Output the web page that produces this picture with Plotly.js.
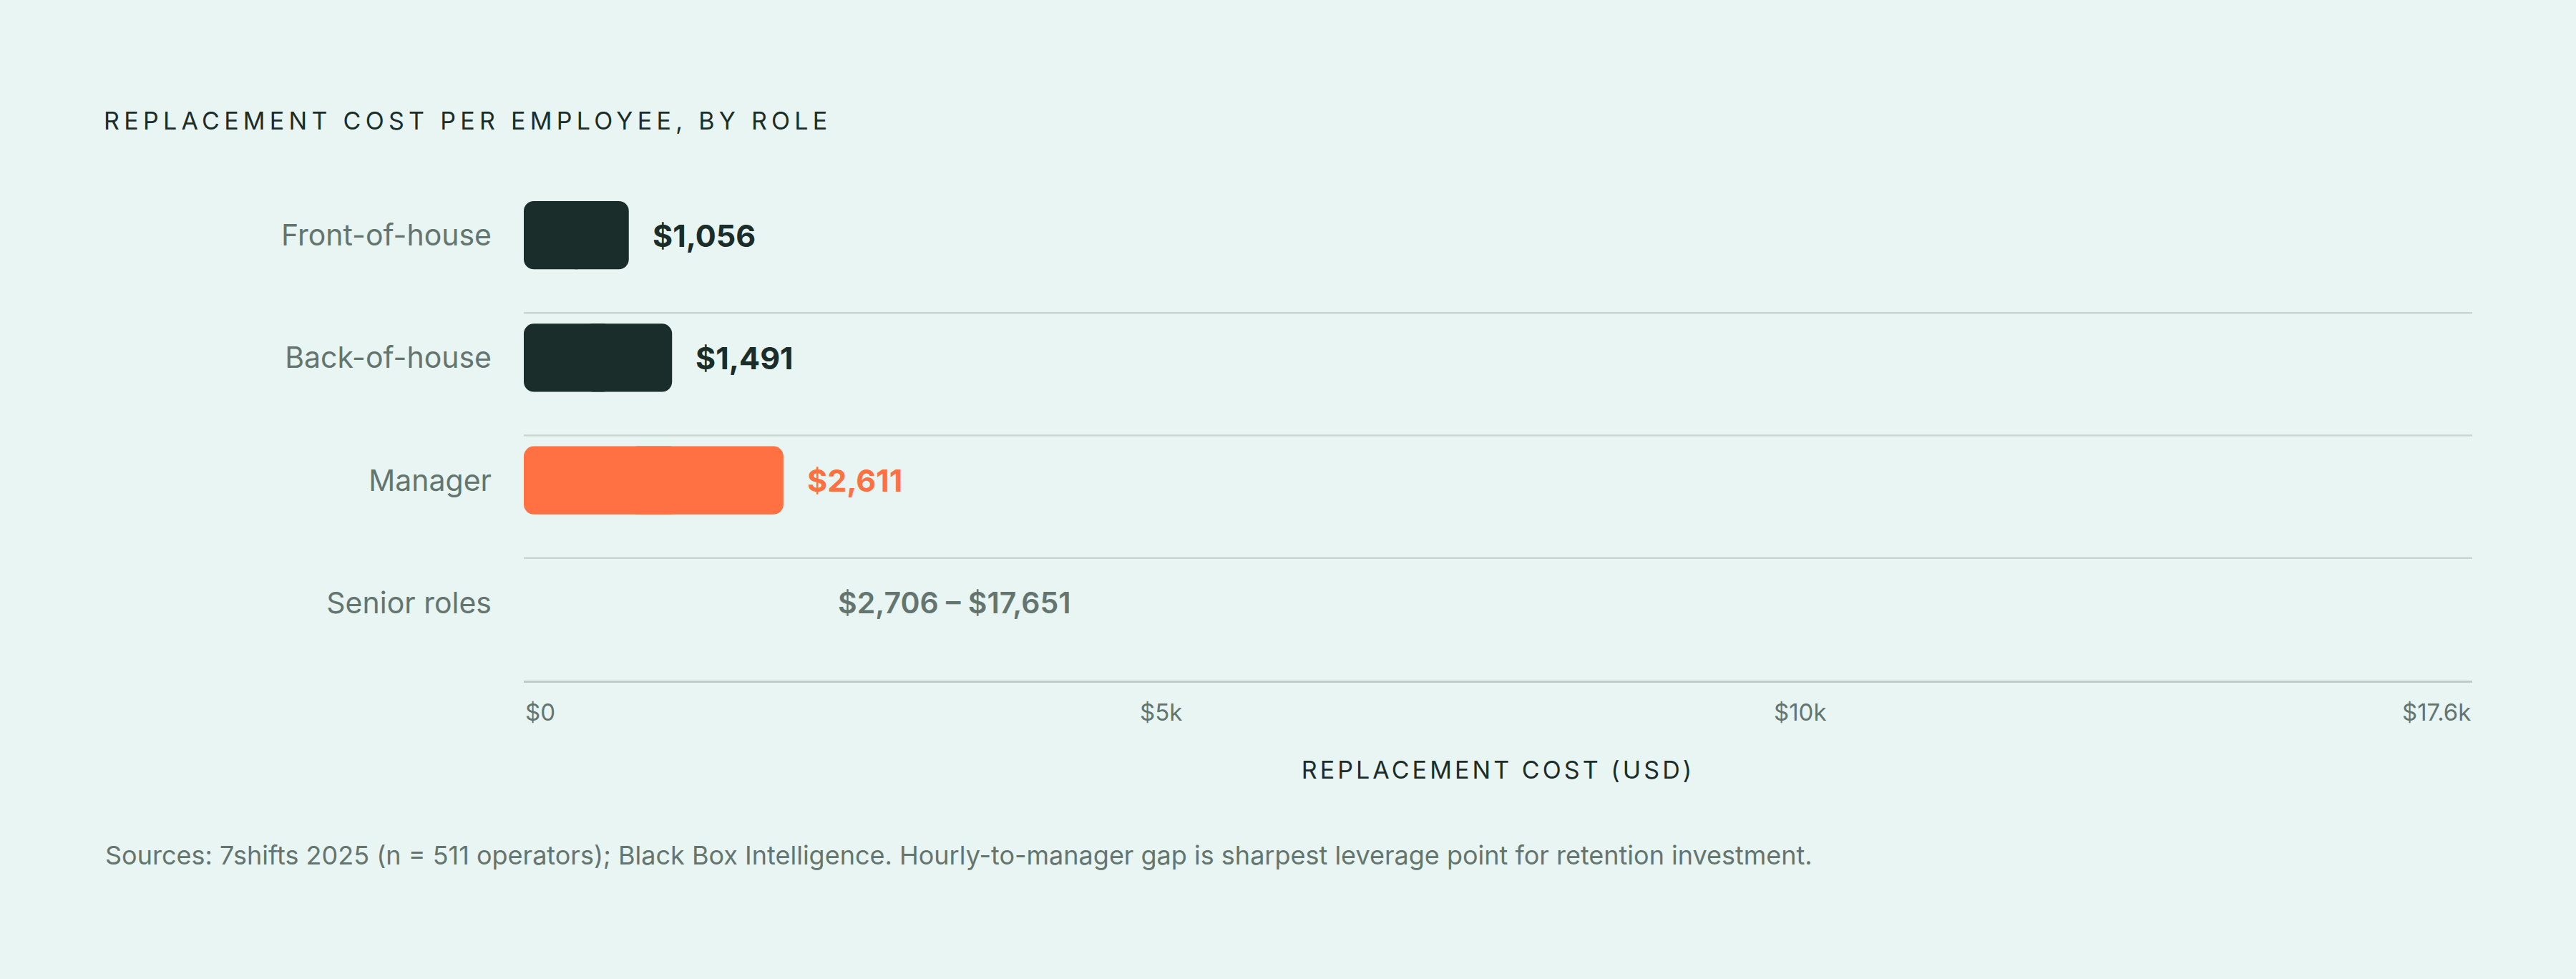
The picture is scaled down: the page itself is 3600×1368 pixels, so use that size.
<!DOCTYPE html>
<html>
<head>
<meta charset="utf-8">
<script src="https://cdn.plot.ly/plotly-3.0.1.min.js"></script>
<style>
  html, body { margin: 0; padding: 0; background: #e8f5f2; }
  #chart { width: 3600px; height: 1368px; }
  .gtitle { letter-spacing: 0.185em; }
  .xtitle { letter-spacing: 0.12em; }
</style>
</head>
<body>
<div id="chart"></div>
<script>
// data
const roles = ["Front-of-house", "Back-of-house", "Manager", "Senior roles"];
const costs = [1056, 1491, 2611, null];
const seniorRange = [2706, 17651];
const highlightRole = "Manager";
const tickLabels = ["$0", "$5k", "$10k", "$17.6k"];
const tickPos = [0, 0.327, 0.655, 1];
const titleText = "REPLACEMENT COST PER EMPLOYEE, BY ROLE";
const xTitleText = "REPLACEMENT COST (USD)";
const footerText =
  "Sources: 7shifts 2025 (n = 511 operators); Black Box Intelligence. Hourly-to-manager gap is sharpest leverage point for retention investment.";

const FONT = "Inter, 'DejaVu Sans', sans-serif";
const DARK = "#1b2d2a";
const ORANGE = "#ff7143";
const GRAY = "#647570";
const BG = "#e8f5f2";

const xMax = seniorRange[1] * 1.11;
const fmt = (v) => "$" + v.toLocaleString("en-US");

const barColors = roles.map((r) => (r === highlightRole ? ORANGE : DARK));

// each bar is drawn as two overlapping halves so both ends get rounded:
// the left half grows back toward 0 (rounded at 0), the right half grows to the value
const leftHalf = {
  type: "bar",
  orientation: "h",
  y: roles,
  base: costs.map((v) => (v == null ? null : v * 0.6)),
  x: costs.map((v) => (v == null ? null : -v * 0.6)),
  width: 0.556,
  marker: { color: barColors, cornerradius: 14, line: { width: 0 } },
  hoverinfo: "skip",
};
const rightHalf = {
  type: "bar",
  orientation: "h",
  y: roles,
  base: costs.map((v) => (v == null ? null : v * 0.4)),
  x: costs.map((v) => (v == null ? null : v * 0.6)),
  width: 0.556,
  marker: { color: barColors, cornerradius: 14, line: { width: 0 } },
  hoverinfo: "skip",
};

const annotations = [];

// value labels next to bars
roles.forEach((r, i) => {
  if (costs[i] == null) return;
  annotations.push({
    x: costs[i],
    y: r,
    xref: "x",
    yref: "y",
    text: fmt(costs[i]),
    showarrow: false,
    xanchor: "left",
    yanchor: "middle",
    xshift: 31,
    font: { family: FONT, size: 43, color: r === highlightRole ? ORANGE : DARK, weight: 700 },
  });
});

// senior range label
annotations.push({
  x: seniorRange[0],
  y: roles[3],
  xref: "x",
  yref: "y",
  text: fmt(seniorRange[0]) + " – " + fmt(seniorRange[1]),
  showarrow: false,
  xanchor: "left",
  yanchor: "middle",
  xshift: 61,
  font: { family: FONT, size: 41, color: GRAY, weight: 600 },
});

// x tick labels
tickLabels.forEach((t, i) => {
  annotations.push({
    x: tickPos[i],
    y: 0,
    xref: "paper",
    yref: "paper",
    text: t,
    showarrow: false,
    xanchor: i === 0 ? "left" : i === tickLabels.length - 1 ? "right" : "center",
    yanchor: "middle",
    yshift: -44,
    font: { family: FONT, size: 33, color: GRAY },
  });
});

// footer
annotations.push({
  x: -587 / 2723,
  y: 0,
  xref: "paper",
  yref: "paper",
  text: footerText,
  showarrow: false,
  xanchor: "left",
  yanchor: "middle",
  yshift: -244,
  font: { family: FONT, size: 36, color: GRAY },
});

// row separators
const shapes = [0, 1, 2].map((i) => ({
  type: "line",
  xref: "paper",
  yref: "y",
  x0: 0,
  x1: 1,
  y0: i + 0.634,
  y1: i + 0.634,
  line: { color: "#c8d6d2", width: 2.5 },
  layer: "below",
}));

const layout = {
  width: 3600,
  height: 1368,
  paper_bgcolor: BG,
  plot_bgcolor: BG,
  margin: { l: 732, r: 145, t: 242.5, b: 416.5 },
  showlegend: false,
  barmode: "overlay",
  title: {
    text: titleText,
    x: 145 / 3600,
    xref: "container",
    xanchor: "left",
    y: 1 - 169 / 1368,
    yref: "container",
    yanchor: "middle",
    font: { family: FONT, size: 34, color: DARK, weight: 400 },
  },
  xaxis: {
    range: [0, xMax],
    showgrid: false,
    zeroline: false,
    showline: true,
    linecolor: "#bccbc6",
    linewidth: 3,
    showticklabels: false,
    ticks: "",
    fixedrange: true,
    title: {
      text: xTitleText,
      standoff: 112,
      font: { family: FONT, size: 34, color: DARK },
    },
  },
  yaxis: {
    type: "category",
    categoryorder: "array",
    categoryarray: roles,
    range: [3.634, -0.5],
    showgrid: false,
    zeroline: false,
    showline: false,
    ticks: "",
    ticklabelstandoff: 44,
    tickfont: { family: FONT, size: 41, color: GRAY },
    fixedrange: true,
  },
  shapes: shapes,
  annotations: annotations,
};

Plotly.newPlot("chart", [leftHalf, rightHalf], layout, { displayModeBar: false, staticPlot: true });
</script>
</body>
</html>
